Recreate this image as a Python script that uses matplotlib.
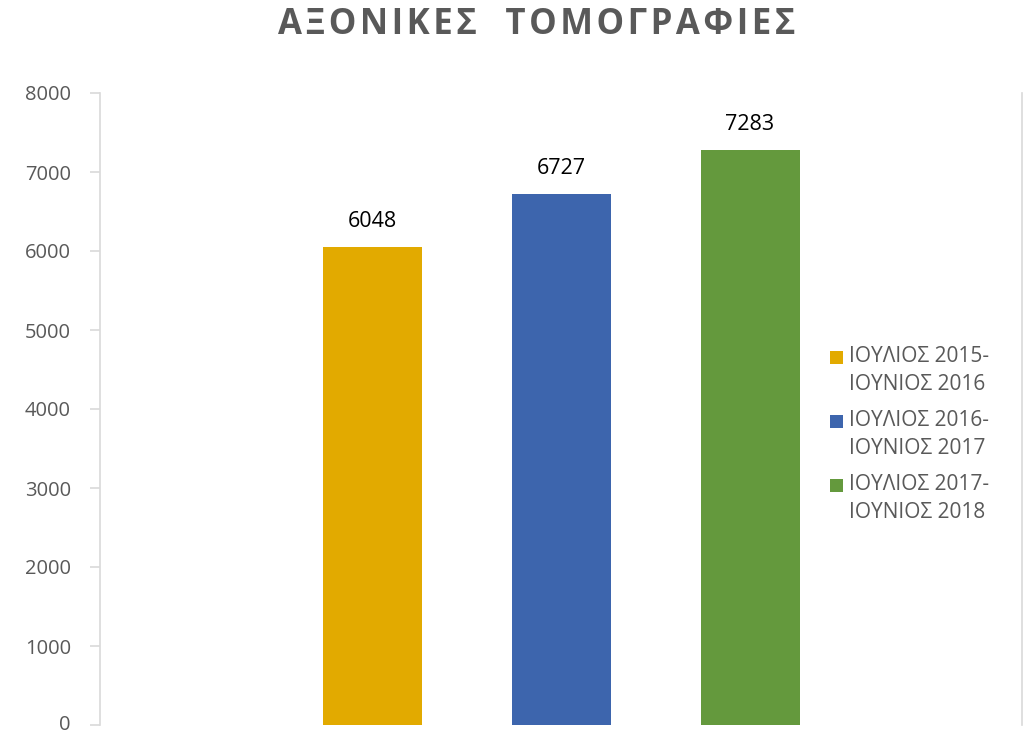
import matplotlib
matplotlib.use("Agg")
import matplotlib.pyplot as plt
import matplotlib.transforms as mtransforms
from matplotlib.patches import Rectangle

plt.rcParams['font.family'] = ['Open Sans', 'DejaVu Sans']

title = "ΑΞΟΝΙΚΕΣ  ΤΟΜΟΓΡΑΦΙΕΣ"
series_line1 = ["ΙΟΥΛΙΟΣ 2015-", "ΙΟΥΛΙΟΣ 2016-", "ΙΟΥΛΙΟΣ 2017-"]
series_line2 = ["ΙΟΥΝΙΟΣ 2016", "ΙΟΥΝΙΟΣ 2017", "ΙΟΥΝΙΟΣ 2018"]
values = [6048, 6727, 7283]
colors = ["#E2AA00", "#3D65AD", "#64993D"]
yticks = [0, 1000, 2000, 3000, 4000, 5000, 6000, 7000, 8000]

W, H = 1023, 734
fig = plt.figure(figsize=(W/100, H/100), dpi=100)
ax = fig.add_axes([100/W, 9/H, 922/W, 632/H])

positions = [-1, 0, 1]
bw = 99/189
ax.bar(positions, values, width=bw, color=colors)
for p, v in zip(positions, values):
    ax.text(p, v + 190, str(v), ha='center', va='bottom', fontsize=15.5, color='black')

ax.set_xlim(-461/189, 461/189)
ax.set_ylim(0, 8000)
ax.set_yticks(yticks)
ax.set_yticklabels([str(t) for t in yticks], fontsize=14.5, color='#595959')
ax.set_xticks([])
ax.tick_params(axis='y', length=7, color='#d9d9d9', width=1.2, pad=14)
for s in ['top', 'bottom']:
    ax.spines[s].set_visible(False)
ax.spines['left'].set_color('#d9d9d9')
ax.spines['left'].set_linewidth(1.2)
ax.spines['right'].set_color('#d9d9d9')
ax.spines['right'].set_linewidth(1.2)

# keep the "0" label fully inside the canvas
lbl0 = ax.get_yticklabels()[0]
lbl0.set_transform(lbl0.get_transform() + mtransforms.ScaledTranslation(0, 3/100, fig.dpi_scale_trans))

spaced = "\u200a".join(list(title))
fig.text(537/W, 1 - 25/H, spaced, ha='center', va='center', fontsize=25,
         fontweight='bold', color='#595959')

# manual legend (square aligned to first line as in the reference)
entry_y = [357, 421, 485]
for c, l1, l2, y in zip(colors, series_line1, series_line2, entry_y):
    fig.add_artist(Rectangle((830/W, 1 - (y + 6.5)/H), 13/W, 13/H,
                             transform=fig.transFigure, facecolor=c, edgecolor='none'))
    fig.text(849/W, 1 - y/H, l1, ha='left', va='center', fontsize=15, color='#595959')
    fig.text(849/W, 1 - (y + 28)/H, l2, ha='left', va='center', fontsize=15, color='#595959')

fig.savefig("out.png", dpi=100)
